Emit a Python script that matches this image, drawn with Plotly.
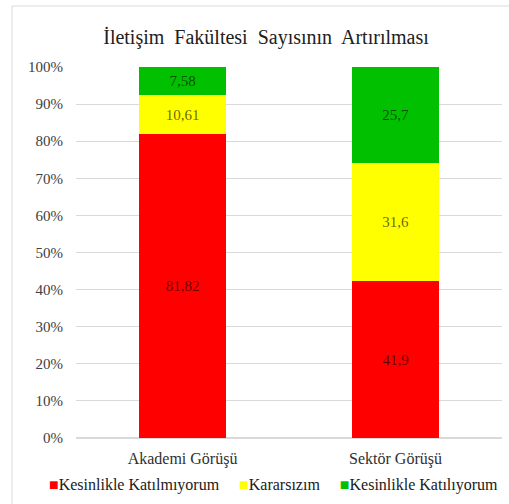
import plotly.graph_objects as go

categories = ["Akademi Görüşü", "Sektör Görüşü"]
series_names = ["Kesinlikle Katılmıyorum", "Kararsızım", "Kesinlikle Katılıyorum"]
kesinlikle_katilmiyorum = [81.82, 41.9]
kararsizim = [10.61, 31.6]
kesinlikle_katiliyorum = [7.58, 25.7]
colors = ["#FF0000", "#FFFF00", "#00C000"]
tick_vals = [0, 10, 20, 30, 40, 50, 60, 70, 80, 90, 100]
tick_text = [f"{v}%" for v in tick_vals]

FONT = "Liberation Serif, Times New Roman, serif"

fig = go.Figure()
for name, vals, col in zip(series_names,
                           [kesinlikle_katilmiyorum, kararsizim, kesinlikle_katiliyorum],
                           colors):
    fig.add_trace(go.Bar(
        x=categories, y=vals, name=name,
        marker=dict(color=col, line=dict(width=0)),
        text=[str(v).replace(".", ",") for v in vals],
        textposition="inside", insidetextanchor="middle",
        textfont=dict(family=FONT, size=15, color="rgba(0,0,0,0.62)"),
        textangle=0, showlegend=False,
    ))

legend_text = "&nbsp;&nbsp;&nbsp;&nbsp;&nbsp;".join(
    f"<span style='color:{c}'>■</span>{n}"
    for n, c in zip(series_names, colors)
)

fig.update_layout(
    barmode="stack", barnorm="percent", bargap=0.59,
    width=509, height=504,
    margin=dict(l=76, r=7, t=67, b=66, autoexpand=False),
    paper_bgcolor="white", plot_bgcolor="white",
    font=dict(family=FONT, size=15, color="#404040"),
    title=dict(text="İletişim  Fakültesi  Sayısının  Artırılması",
               x=266/509, xanchor="center", xref="container",
               y=1-37/504, yanchor="middle", yref="container",
               font=dict(family=FONT, size=20, color="#202020")),
    showlegend=False,
    xaxis=dict(showgrid=False, showline=False, ticks="", automargin=False,
               ticklabelstandoff=9,
               tickfont=dict(family=FONT, size=16, color="#303030")),
    yaxis=dict(range=[0, 100], tickvals=tick_vals, ticktext=tick_text,
               showgrid=True, gridcolor="#d9d9d9", gridwidth=1,
               zeroline=True, zerolinecolor="#d9d9d9", showline=False,
               ticks="", ticklabelstandoff=12, automargin=False,
               tickfont=dict(family=FONT, size=15, color="#404040")),
    annotations=[dict(text=legend_text, xref="paper", yref="paper",
                      x=(273-76)/426, y=(438-485)/371,
                      xanchor="center", yanchor="middle", showarrow=False,
                      font=dict(family=FONT, size=16, color="#202020"))],
    shapes=[dict(type="rect", xref="paper", yref="paper",
                 x0=(12-76)/426, x1=(520-76)/426,
                 y0=(438-520)/371, y1=(438-6)/371,
                 line=dict(color="#d9d9d9", width=1), fillcolor="rgba(0,0,0,0)",
                 layer="below")],
)

fig.write_html("out.html", config={"displayModeBar": False},
               post_script="document.body.style.margin='0';document.body.style.padding='0';")
